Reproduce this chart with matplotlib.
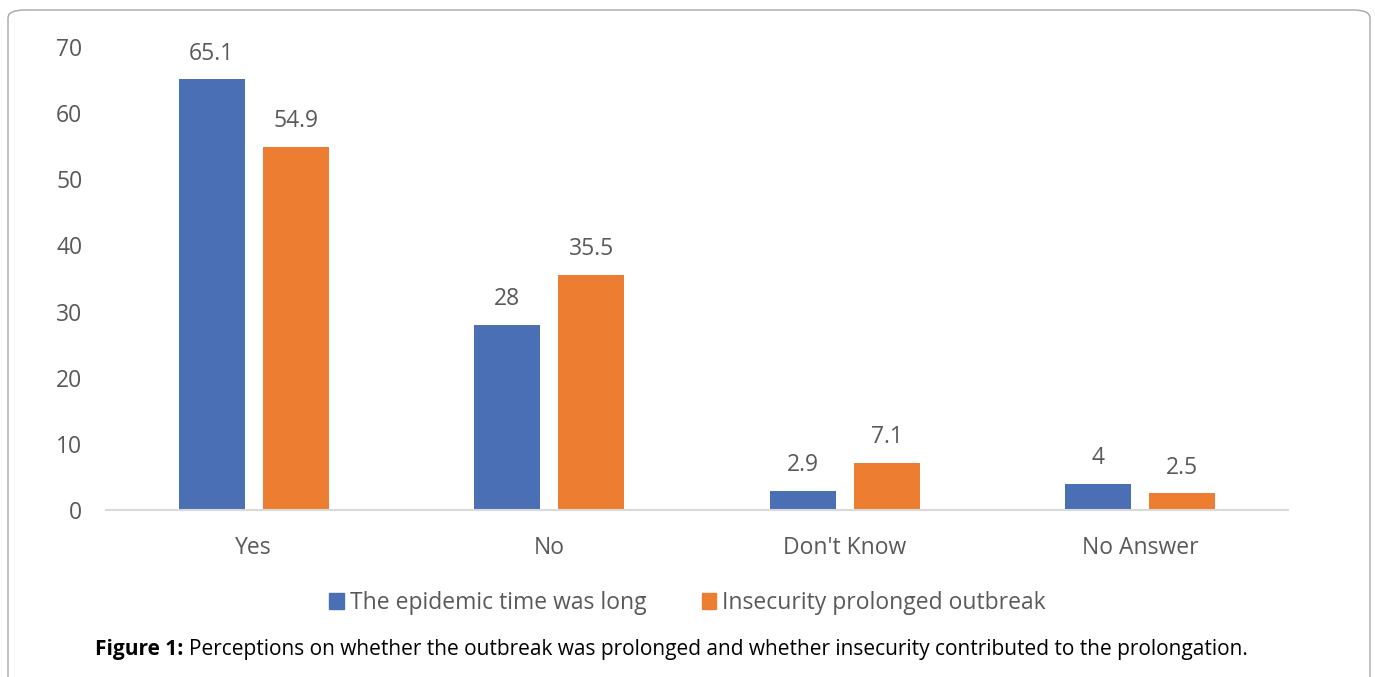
import matplotlib
matplotlib.use("Agg")
import matplotlib.pyplot as plt
from matplotlib.patches import FancyBboxPatch, Patch
import numpy as np

categories = ["Yes", "No", "Don't Know", "No Answer"]
epidemic_long = [65.1, 28, 2.9, 4]
insecurity_prolonged = [54.9, 35.5, 7.1, 2.5]
series_names = ["The epidemic time was long", "Insecurity prolonged outbreak"]
y_ticks = [0, 10, 20, 30, 40, 50, 60, 70]

BLUE = "#4a6fb5"
ORANGE = "#ed7d31"
GRAY = "#595959"
FS = 16.5

plt.rcParams["font.family"] = ["Open Sans", "DejaVu Sans"]

fig = plt.figure(figsize=(13.75, 6.77), dpi=100)
ax = fig.add_axes([106 / 1375, 167 / 677, 1182 / 1375, 463 / 677])

x = np.arange(len(categories))
w = 0.224
off = 0.142
b1 = ax.bar(x - off, epidemic_long, w, color=BLUE)
b2 = ax.bar(x + off, insecurity_prolonged, w, color=ORANGE)
for bars, vals in ((b1, epidemic_long), (b2, insecurity_prolonged)):
    ax.bar_label(bars, labels=[f"{v:g}" for v in vals], padding=10,
                 fontsize=FS, color=GRAY)

ax.set_xlim(-0.5, len(categories) - 0.5)
ax.set_ylim(0, 70)
ax.set_yticks(y_ticks)
ax.set_xticks(x)
ax.set_xticklabels(categories)
ax.tick_params(axis="y", length=0, pad=17, labelsize=FS, labelcolor=GRAY)
ax.tick_params(axis="x", length=0, pad=19, labelsize=FS, labelcolor=GRAY)
for s in ("top", "right", "left"):
    ax.spines[s].set_visible(False)
ax.spines["bottom"].set_color("#d9d9d9")
ax.spines["bottom"].set_linewidth(1.5)

handles = [Patch(color=BLUE), Patch(color=ORANGE)]
fig.legend(handles, series_names, loc="center", bbox_to_anchor=(0.5, 1 - 603 / 677),
           ncol=2, frameon=False, fontsize=FS, labelcolor=GRAY,
           handlelength=0.65, handleheight=0.65, handletextpad=0.25, columnspacing=2.4)

caption_y = 1 - 650 / 677
t1 = fig.text(95 / 1375, caption_y, "Figure 1:", fontsize=15, fontweight="bold",
              color="black", va="center", ha="left")
fig.canvas.draw()
bb = t1.get_window_extent()
fig.text(bb.x1 / 1375 + 0.004, caption_y,
         "Perceptions on whether the outbreak was prolonged and whether insecurity contributed to the prolongation.",
         fontsize=15, color="black", va="center", ha="left")

frame = FancyBboxPatch((8 / 1375, -0.1), 1362 / 1375, 1.1 - 10 / 677,
                       boxstyle="round,pad=0,rounding_size=0.012",
                       transform=fig.transFigure, fill=False,
                       edgecolor="#a6a6a6", linewidth=1.0, clip_on=False)
fig.patches.append(frame)

fig.savefig("out.png", dpi=100)
